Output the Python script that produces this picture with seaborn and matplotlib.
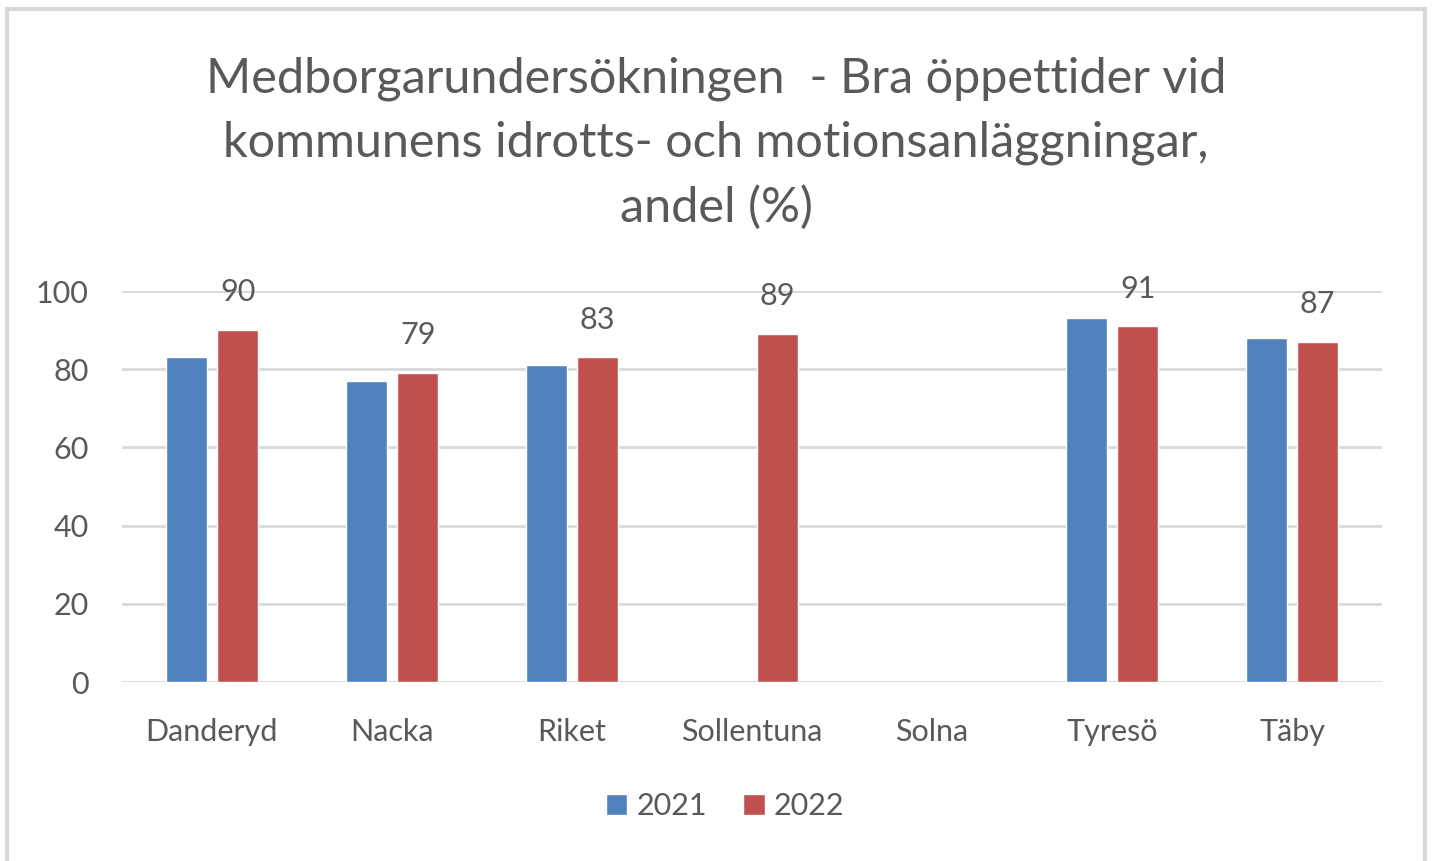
import numpy as np
import pandas as pd
import matplotlib
matplotlib.use("Agg")
import matplotlib.pyplot as plt
import seaborn as sns

# Data
kommuner = ["Danderyd", "Nacka", "Riket", "Sollentuna", "Solna", "Tyresö", "Täby"]
andel_2021 = [83, 77, 81, np.nan, np.nan, 93, 88]
andel_2022 = [90, 79, 83, 89, np.nan, 91, 87]
years = ["2021", "2022"]
colors = ["#4F81BD", "#C0504D"]

df = pd.DataFrame({
    "kommun": kommuner * 2,
    "år": [years[0]] * len(kommuner) + [years[1]] * len(kommuner),
    "andel": andel_2021 + andel_2022,
})

sns.set_style("white")
plt.rcParams["font.family"] = ["Lato", "DejaVu Sans"]
text_col = "#595959"

fig = plt.figure(figsize=(14.32, 8.61), dpi=100)
ax = fig.add_axes([122 / 1432, 1 - 682 / 861, 1260 / 1432, 391 / 861])

sns.barplot(data=df, x="kommun", y="andel", hue="år", order=kommuner,
            hue_order=years, palette=colors, width=0.57, gap=0.19,
            saturation=1, ax=ax, zorder=3)

# Data labels only for 2022
ax.bar_label(ax.containers[1], fmt="%.0f", padding=17, fontsize=22,
             color=text_col, clip_on=False)

ax.set_ylim(0, 100)
ax.set_yticks([0, 20, 40, 60, 80, 100])
ax.yaxis.grid(True, color="#D9D9D9", linewidth=2, zorder=0)
ax.set_xlim(-0.5, len(kommuner) - 0.5)
for s in ax.spines.values():
    s.set_visible(False)
ax.tick_params(axis="both", length=0, labelsize=22, colors=text_col)
ax.tick_params(axis="y", pad=24)
ax.tick_params(axis="x", pad=26)
ax.set_xlabel("")
ax.set_ylabel("")

leg = ax.legend(loc="center", bbox_to_anchor=(725 / 1432, 1 - 806 / 861),
                bbox_transform=fig.transFigure, ncol=2, frameon=False,
                fontsize=22, handlelength=0.7, handleheight=0.7,
                handletextpad=0.3, columnspacing=1.2)
for t in leg.get_texts():
    t.set_color(text_col)

fig.text(0.5, 1 - 143 / 861,
         "Medborgarundersökningen  - Bra öppettider vid\n"
         "kommunens idrotts- och motionsanläggningar,\nandel (%)",
         ha="center", va="center", fontsize=35, color=text_col,
         linespacing=1.55)

# chart frame
frame = plt.Rectangle((7 / 1432, -0.05), 1418 / 1432, 1.05 - 9 / 861,
                      transform=fig.transFigure, fill=False,
                      edgecolor="#D9D9D9", linewidth=3)
fig.patches.append(frame)

fig.savefig("out.png", dpi=100, facecolor="white")
